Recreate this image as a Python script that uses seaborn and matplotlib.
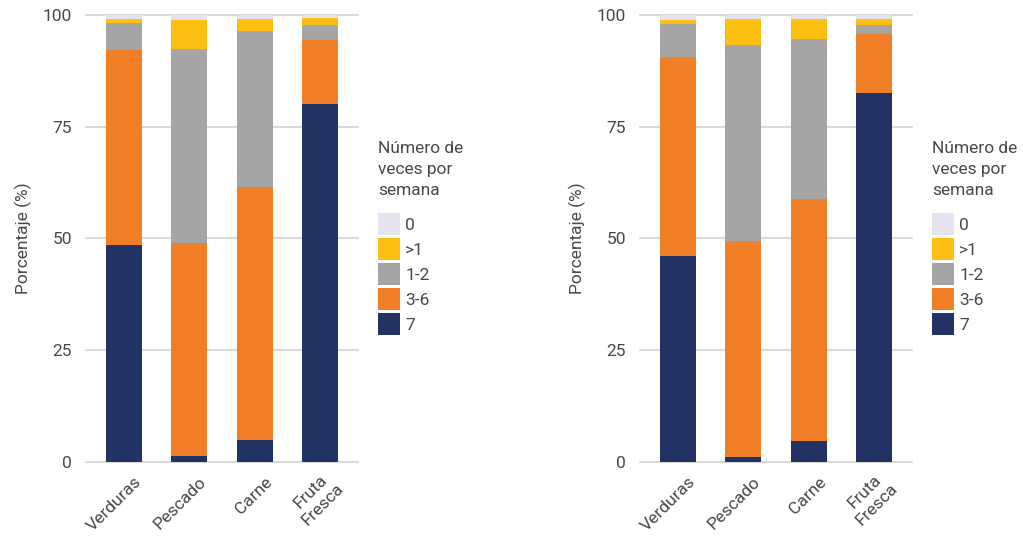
import numpy as np
import pandas as pd
import seaborn as sns
import matplotlib
matplotlib.use("Agg")
import matplotlib.pyplot as plt
from matplotlib.patches import Patch
from matplotlib.transforms import ScaledTranslation

# ---------------- data ----------------
categories = ["Verduras", "Pescado", "Carne", "Fruta\nFresca"]
series_names = ["0", ">1", "1-2", "3-6", "7"]  # legend order (top to bottom)

# left panel (percent)
left_7 = [48.5, 1.3, 4.9, 80.1]
left_36 = [43.7, 47.7, 56.6, 14.4]
left_12 = [6.0, 43.4, 34.9, 3.3]
left_gt1 = [0.9, 6.5, 2.7, 1.5]
left_0 = [0.9, 1.1, 0.9, 0.7]

# right panel (percent)
right_7 = [46.0, 1.0, 4.7, 82.6]
right_36 = [44.6, 48.4, 54.1, 13.2]
right_12 = [7.4, 43.9, 35.8, 2.0]
right_gt1 = [0.9, 5.8, 4.5, 1.3]
right_0 = [1.1, 0.9, 0.9, 0.9]

yticks = [0, 25, 50, 75, 100]
ylabel = "Porcentaje (%)"
legend_title = "Número de\nveces por\nsemana"

colors = {"0": "#e4e3ee", ">1": "#fdbf11", "1-2": "#a5a5a5",
          "3-6": "#f07f27", "7": "#223264"}

# ---------------- style ----------------
sns.set_theme(style="white")
plt.rcParams["font.family"] = ["Roboto", "DejaVu Sans"]
TXT = "#484848"
FS = 12.5
FSPX = FS * 100 / 72
WT = "normal"

fig = plt.figure(figsize=(10.23, 5.40), dpi=100)
W, H = 1023, 540
ax_bottom = 1 - 461.7 / H
ax_height = (461.7 - 15) / H
ax_w = 272 / W
axL = fig.add_axes([86 / W, ax_bottom, ax_w, ax_height])
axR = fig.add_axes([640 / W, ax_bottom, ax_w, ax_height])

hl = 22 / FSPX
hh = (22 / FSPX - 0.245) / 0.65
ls = 3 / FSPX


def draw(ax, s7, s36, s12, sgt1, s0, legend_x):
    df = pd.DataFrame({"cat": categories, "7": s7, "3-6": s36, "1-2": s12,
                       ">1": sgt1, "0": s0})
    stack_order = ["7", "3-6", "1-2", ">1", "0"]  # bottom to top
    cum = df[stack_order].cumsum(axis=1)
    for name in reversed(stack_order):
        sns.barplot(x=df["cat"], y=cum[name], order=categories, color=colors[name],
                    saturation=1, width=0.55, linewidth=0, ax=ax, zorder=2)
    ax.set_xlim(-0.58, 3.58)
    ax.set_ylim(0, 100)
    ax.set_yticks(yticks)
    ax.set_yticklabels([str(t) for t in yticks], color=TXT, fontsize=FS,
                       fontweight=WT)
    ax.yaxis.grid(True, color="#d9d9d9", linewidth=1.5, zorder=0)
    ax.xaxis.grid(False)
    ax.set_axisbelow(True)
    for gl in ax.get_ygridlines():
        gl.set_clip_on(False)
    for sp in ax.spines.values():
        sp.set_visible(False)
    ax.tick_params(axis="y", length=0, pad=10)
    ax.tick_params(axis="x", length=0, pad=13)
    ax.set_xlabel("")
    ax.set_ylabel(ylabel, fontsize=FS, color=TXT, fontweight=WT)
    ax.yaxis.set_label_coords(-0.2, 0.5)
    ax.set_xticks(range(len(categories)))
    ax.set_xticklabels(categories, rotation=45, ha="right", va="center",
                       rotation_mode="anchor", multialignment="center",
                       color=TXT, fontsize=FS, fontweight=WT)
    off = ScaledTranslation(15 / 100, 0, fig.dpi_scale_trans)
    for lab in ax.get_xticklabels():
        lab.set_transform(lab.get_transform() + off)

    # legend title as separate text, legend entries below
    fig.text(legend_x / W, 1 - 141 / H, legend_title, ha="left", va="top",
             fontsize=FS, color=TXT, fontweight=WT, linespacing=1.5)
    handles = [Patch(facecolor=colors[n], edgecolor="none", label=n) for n in series_names]
    leg = fig.legend(handles=handles, loc="upper left",
                     bbox_to_anchor=(legend_x / W, 1 - 213 / H), frameon=False,
                     fontsize=FS, handlelength=hl,
                     handleheight=hh, handletextpad=0.3, labelspacing=ls,
                     borderpad=0, borderaxespad=0)
    for t in leg.get_texts():
        t.set_color(TXT)
        t.set_fontweight(WT)


draw(axL, left_7, left_36, left_12, left_gt1, left_0, 378)
draw(axR, right_7, right_36, right_12, right_gt1, right_0, 932)

fig.savefig("out.png", dpi=100, facecolor="white")
